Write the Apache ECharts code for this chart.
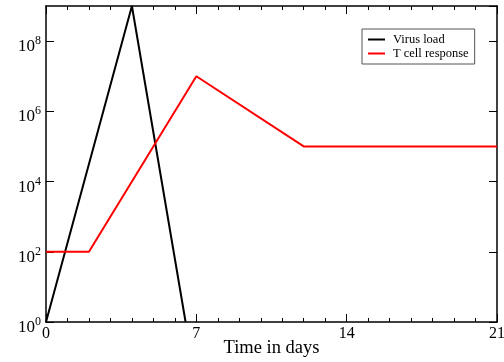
<!DOCTYPE html>
<html>
<head>
<meta charset="utf-8">
<script src="https://cdn.jsdelivr.net/npm/echarts@6/dist/echarts.min.js"></script>
<style>
html,body{margin:0;padding:0;background:#fff;}
#c{width:504px;height:362px;}
</style>
</head>
<body>
<div id="c"></div>
<script>
var seriesNames = ['Virus load', 'T cell response'];
var virusDays = [0, 4, 6.5];
var virusLoad = [1, 1e9, 1];
var tcellDays = [0, 2, 7, 12, 21];
var tcellResponse = [100, 100, 1e7, 1e5, 1e5];
var xTicks = [0, 7, 14, 21];
var yExponents = [0, 2, 4, 6, 8];

function pairs(xs, ys) { return xs.map(function (x, i) { return [x, ys[i]]; }); }

var FONT = '"Liberation Serif", "DejaVu Serif", serif';
var chart = echarts.init(document.getElementById('c'), null, {renderer: 'canvas'});
var axisLine = {show: true, onZero: false, lineStyle: {color: '#000', width: 1.5}};
var option = {
  animation: false,
  grid: {left: 46, right: 7, top: 6, bottom: 40, containLabel: false, outerBoundsMode: 'none'},
  legend: {
    left: 362, top: 29, orient: 'vertical',
    data: seriesNames,
    icon: 'rect', itemWidth: 17, itemHeight: 2, itemGap: 1,
    borderColor: '#555', borderWidth: 1, padding: [4, 6, 4, 6],
    textStyle: {fontFamily: FONT, fontSize: 12.5, color: '#000', padding: [0, 0, 0, 3]}
  },
  xAxis: [{
    type: 'value', min: xTicks[0], max: xTicks[xTicks.length - 1], interval: 7,
    axisLine: axisLine,
    axisTick: {show: true, inside: true, length: 8, lineStyle: {color: '#000', width: 1}},
    minorTick: {show: true, splitNumber: 7, length: 4, lineStyle: {color: '#000', width: 1}},
    splitLine: {show: false},
    axisLabel: {fontFamily: FONT, fontSize: 16, color: '#000', margin: 4},
    name: 'Time in days', nameLocation: 'middle', nameGap: 17, nameMoveOverlap: false,
    nameTextStyle: {fontFamily: FONT, fontSize: 18.5, color: '#000'}
  }, {
    type: 'value', position: 'top', min: 0, max: 21, interval: 7,
    axisLine: axisLine,
    axisTick: {show: true, inside: true, length: 8, lineStyle: {color: '#000', width: 1}},
    minorTick: {show: true, splitNumber: 7, length: 4, lineStyle: {color: '#000', width: 1}},
    splitLine: {show: false}, axisLabel: {show: false}
  }],
  yAxis: [{
    type: 'log', logBase: 10, min: 1, max: 1e9, interval: 2,
    axisLine: axisLine,
    axisTick: {show: true, inside: true, length: 8, lineStyle: {color: '#000', width: 1}},
    splitLine: {show: false},
    axisLabel: {
      margin: 5, showMaxLabel: false, padding: [8, 0, 0, 0],
      formatter: function (v) {
        var e = Math.round(Math.log10(v));
        if (yExponents.indexOf(e) < 0) return '';
        return '{b|10}{s|' + e + '}';
      },
      rich: {
        b: {fontFamily: FONT, fontSize: 17, color: '#000', verticalAlign: 'bottom'},
        s: {fontFamily: FONT, fontSize: 12, color: '#000', verticalAlign: 'top', padding: [0, 0, 8, 0]}
      }
    }
  }, {
    type: 'log', logBase: 10, min: 1, max: 1e9, interval: 2, position: 'right',
    axisLine: axisLine,
    axisTick: {show: true, inside: true, length: 8, lineStyle: {color: '#000', width: 1}},
    splitLine: {show: false}, axisLabel: {show: false}
  }],
  series: [{
    name: seriesNames[0], type: 'line', data: pairs(virusDays, virusLoad),
    showSymbol: false, symbol: 'none', clip: true,
    lineStyle: {color: '#000', width: 2}, itemStyle: {color: '#000'}
  }, {
    name: seriesNames[1], type: 'line', data: pairs(tcellDays, tcellResponse),
    showSymbol: false, symbol: 'none', clip: true,
    lineStyle: {color: '#ff0000', width: 2}, itemStyle: {color: '#ff0000'}
  }]
};
chart.setOption(option);
</script>
</body>
</html>
